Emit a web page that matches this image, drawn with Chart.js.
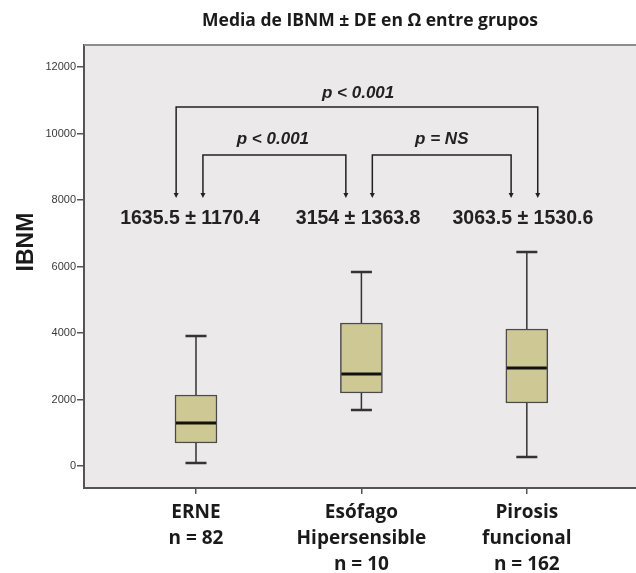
<!DOCTYPE html>
<html>
<head>
<meta charset="utf-8">
<script src="https://cdn.jsdelivr.net/npm/chart.js@4.4.1/dist/chart.umd.min.js"></script>
<style>
  body { margin: 0; background: #fff; }
  canvas { display: block; }
</style>
</head>
<body>
<canvas id="chart" width="636" height="573"></canvas>
<script>
// Box plot values (IBNM, ohm)
const groups = [['ERNE', 'n = 82'], ['Esófago', 'Hipersensible', 'n = 10'], ['Pirosis', 'funcional', 'n = 162']];
const whiskerLow = [90, 1684, 270];
const q1 = [692, 2195, 1895];
const median = [1293, 2767, 2947];
const q3 = [2135, 4300, 4120];
const whiskerHigh = [3910, 5835, 6436];
const meanSd = ['1635.5 ± 1170.4', '3154 ± 1363.8', '3063.5 ± 1530.6'];
const yTicks = [0, 2000, 4000, 6000, 8000, 10000, 12000];

// Comparison brackets: which groups, label
const comparisons = [
    { from: 0, to: 2, label: 'p < 0.001' },
    { from: 0, to: 1, label: 'p < 0.001' },
    { from: 1, to: 2, label: 'p = NS' }
];

const positions = groups.map((g, i) => i + 1);

// Layout for the annotations, in scale units
const bracketStyle = [
    { x1: 0.88, x2: 3.066, y: 10800, textX: 1.98, textY: 11220 },
    { x1: 1.042, x2: 1.906, y: 9350, textX: 1.465, textY: 9830 },
    { x1: 2.066, x2: 2.905, y: 9350, textX: 2.486, textY: 9830 }
];
const arrowTipY = 8060;
const meanTextY = 7430;
const meanTextX = [0.964, 1.98, 2.976];

const boxPlugin = {
    id: 'boxExtras',
    beforeDraw(chart) {
        const { ctx, chartArea: a } = chart;
        ctx.save();
        ctx.fillStyle = '#ebe9e9';
        ctx.fillRect(a.left, a.top, a.right - a.left, a.bottom - a.top);
        ctx.restore();
    },
    afterDatasetsDraw(chart) {
        const { ctx } = chart;
        const xs = chart.scales.x, ys = chart.scales.y;
        ctx.save();
        positions.forEach((p, i) => {
            const x = xs.getPixelForValue(p);
            // whiskers
            ctx.strokeStyle = '#333';
            ctx.lineWidth = 1.5;
            ctx.beginPath();
            ctx.moveTo(x, ys.getPixelForValue(q3[i]));
            ctx.lineTo(x, ys.getPixelForValue(whiskerHigh[i]));
            ctx.moveTo(x, ys.getPixelForValue(q1[i]));
            ctx.lineTo(x, ys.getPixelForValue(whiskerLow[i]));
            ctx.stroke();
            // caps
            ctx.lineWidth = 2.5;
            ctx.beginPath();
            [whiskerHigh[i], whiskerLow[i]].forEach(v => {
                const y = ys.getPixelForValue(v);
                ctx.moveTo(x - 10.5, y);
                ctx.lineTo(x + 10.5, y);
            });
            ctx.stroke();
            // median
            ctx.strokeStyle = '#111';
            ctx.lineWidth = 3;
            ctx.beginPath();
            const ym = ys.getPixelForValue(median[i]);
            ctx.moveTo(x - 20, ym);
            ctx.lineTo(x + 20, ym);
            ctx.stroke();
        });
        ctx.restore();
    },
    afterDraw(chart) {
        const { ctx, chartArea: a } = chart;
        const xs = chart.scales.x, ys = chart.scales.y;
        ctx.save();

        // top frame line
        ctx.strokeStyle = '#8c8c8c';
        ctx.lineWidth = 2;
        ctx.beginPath();
        ctx.moveTo(a.left, a.top);
        ctx.lineTo(a.right, a.top);
        ctx.stroke();

        // title
        ctx.fillStyle = '#1a1a1a';
        ctx.textAlign = 'center';
        ctx.textBaseline = 'middle';
        ctx.font = 'bold 17.5px "Open Sans"';
        ctx.fillText('Media de IBNM ± DE en Ω entre grupos', (a.left + a.right) / 2 + 10, 21);

        // y axis title
        ctx.save();
        ctx.translate(27, 242);
        ctx.rotate(-Math.PI / 2);
        ctx.font = 'bold 23px "Liberation Sans"';
        ctx.fillText('IBNM', 0, 0);
        ctx.restore();

        // brackets
        const tipY = ys.getPixelForValue(arrowTipY);
        ctx.strokeStyle = '#222';
        ctx.fillStyle = '#222';
        ctx.lineWidth = 1.5;
        comparisons.forEach((c, k) => {
            const b = bracketStyle[k];
            const x1 = xs.getPixelForValue(b.x1), x2 = xs.getPixelForValue(b.x2);
            const y = ys.getPixelForValue(b.y);
            ctx.beginPath();
            ctx.moveTo(x1, tipY - 4);
            ctx.lineTo(x1, y);
            ctx.lineTo(x2, y);
            ctx.lineTo(x2, tipY - 4);
            ctx.stroke();
            [x1, x2].forEach(x => {
                ctx.beginPath();
                ctx.moveTo(x - 2.5, tipY - 5);
                ctx.lineTo(x + 2.5, tipY - 5);
                ctx.lineTo(x, tipY);
                ctx.closePath();
                ctx.fill();
            });
            ctx.font = 'italic bold 17px "Liberation Sans"';
            ctx.fillText(c.label, xs.getPixelForValue(b.textX), ys.getPixelForValue(b.textY));
        });

        // mean ± SD
        ctx.font = 'bold 19.5px "Liberation Sans"';
        meanSd.forEach((t, i) => {
            ctx.fillText(t, xs.getPixelForValue(meanTextX[i]), ys.getPixelForValue(meanTextY));
        });
        ctx.restore();
    }
};

const ctx = document.getElementById('chart');
new Chart(ctx, {
    type: 'bar',
    data: {
        datasets: [{
            data: positions.map((p, i) => ({ x: p, y: [q1[i], q3[i]] })),
            backgroundColor: '#cec894',
            borderColor: '#4a4a4a',
            borderWidth: 1.5,
            borderSkipped: false,
            barThickness: 42
        }]
    },
    options: {
        responsive: false,
        animation: false,
        devicePixelRatio: 1,
        layout: { padding: { top: 45, left: 0, right: 0, bottom: 0 } },
        plugins: {
            legend: { display: false },
            tooltip: { enabled: false }
        },
        scales: {
            x: {
                type: 'linear',
                min: 0.323,
                max: 3.66,
                offset: false,
                afterFit: s => { s.height = 85; },
                afterBuildTicks: s => { s.ticks = positions.map(v => ({ value: v })); },
                grid: { offset: false, drawOnChartArea: false, drawTicks: true, tickLength: 6, color: '#555', lineWidth: 1.5 },
                border: { display: true, color: '#555', width: 2 },
                ticks: {
                    padding: 5,
                    color: '#1a1a1a',
                    font: { family: '"Open Sans"', weight: 'bold', size: 19, lineHeight: 1.38 },
                    maxRotation: 0,
                    callback: v => groups[v - 1] || ''
                }
            },
            y: {
                min: -662,
                max: 12662,
                afterFit: s => { s.width = 84; },
                afterBuildTicks: s => { s.ticks = yTicks.map(v => ({ value: v })); },
                grid: { drawOnChartArea: false, drawTicks: true, tickLength: 7, color: '#555', lineWidth: 1.5 },
                border: { display: true, color: '#555', width: 2 },
                ticks: {
                    padding: 1,
                    color: '#3a3a3a',
                    font: { family: '"Liberation Sans"', size: 11 },
                    callback: v => String(v)
                }
            }
        }
    },
    plugins: [boxPlugin]
});
</script>
</body>
</html>
